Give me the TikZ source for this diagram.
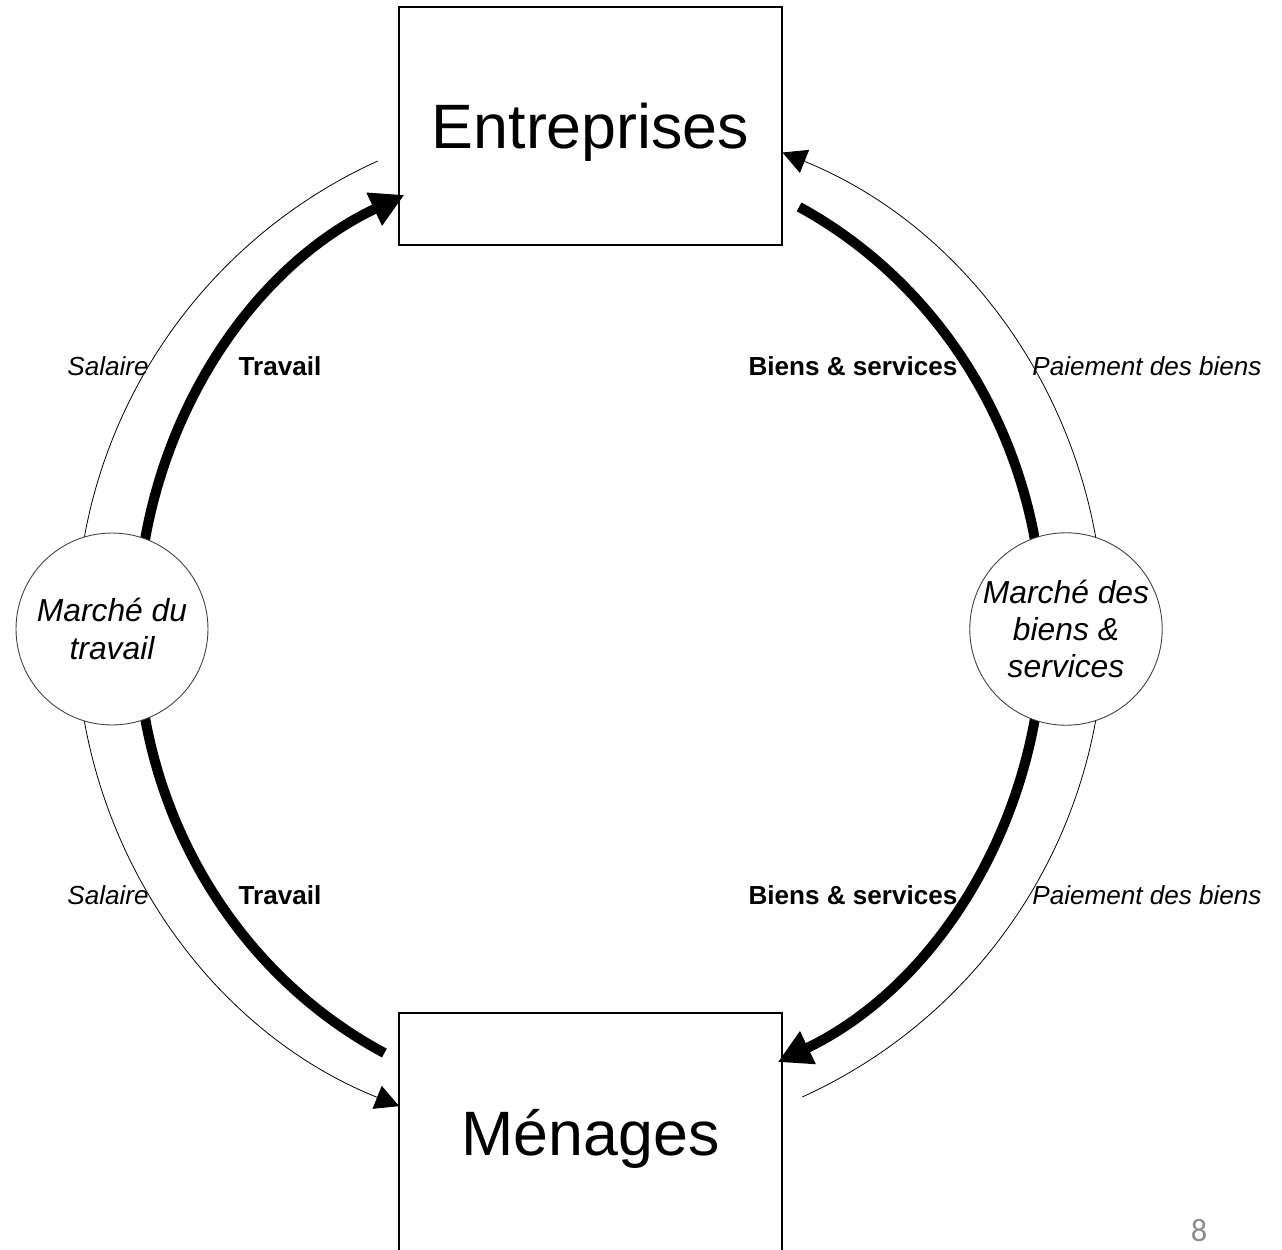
\documentclass[tikz,border=0pt]{standalone}
\usepackage{fontspec}
\setmainfont{Liberation Sans}
\newfontfamily\pagefont{Carlito}
\usetikzlibrary{arrows.meta}
\definecolor{pagegray}{HTML}{8C8C8C}
\begin{document}
\begin{tikzpicture}[x=0.02cm,y=0.02cm,
  box/.style={draw=black, line width=0.7pt, fill=white, minimum width=7.66cm,
    minimum height=4.76cm, inner sep=0pt, text depth=0pt,
    font=\fontsize{35.7}{40}\selectfont},
  market/.style={circle, draw=black!75, line width=0.5pt, fill=white,
    minimum size=3.84cm, inner sep=0pt, align=center,
    font=\fontsize{18.1}{21.3}\selectfont\itshape},
  flowthick/.style={line width=5.7pt},
  flowthin/.style={line width=0.45pt, draw=black},
  bigtip/.style={-{Triangle[length=19pt,width=19.5pt]}},
  smalltip/.style={-{Triangle[length=13.5pt,width=14pt]}},
  lab/.style={anchor=base, font=\fontsize{14.85}{17}\selectfont},
  labb/.style={lab, font=\fontsize{14.85}{17}\selectfont\bfseries},
  labi/.style={lab, font=\fontsize{14.85}{17}\selectfont\itshape},
]
\useasboundingbox (0,0) rectangle (1282,1249);
\clip (0,0) rectangle (1282,1249);

\coordinate (C) at (590,620);

% boxes
\node[box] (E) at (590.5,1123) {Entreprises};
\node[box] (M) at (590.5,117) {Ménages};

% thick flows (real flows)
\draw[flowthick,bigtip] ([shift={(180:9.06cm and 9.52cm)}]C)
  arc[start angle=180, end angle=114.2, x radius=9.06cm, y radius=9.52cm];
\draw[flowthick] ([shift={(62.5:9.06cm and 9.52cm)}]C)
  arc[start angle=62.5, end angle=0, x radius=9.06cm, y radius=9.52cm];
\draw[flowthick,bigtip] ([shift={(0:9.06cm and 9.52cm)}]C)
  arc[start angle=0, end angle=-65.5, x radius=9.06cm, y radius=9.52cm];
\draw[flowthick] ([shift={(-117:9.06cm and 9.52cm)}]C)
  arc[start angle=-117, end angle=-180, x radius=9.06cm, y radius=9.52cm];

% thin flows (money flows)
\draw[flowthin] ([shift={(114.4:10.28cm)}]C)
  arc[start angle=114.4, end angle=180, radius=10.28cm];
\draw[flowthin,smalltip] ([shift={(180:10.28cm)}]C)
  arc[start angle=180, end angle=248.2, radius=10.28cm];
\draw[flowthin,smalltip] ([shift={(0:10.28cm)}]C)
  arc[start angle=0, end angle=68, radius=10.28cm];
\draw[flowthin] ([shift={(-65.6:10.28cm)}]C)
  arc[start angle=-65.6, end angle=0, radius=10.28cm];

% markets
\node[market] (LM) at (112,620) {Marché du\\travail};
\node[market] (RM) at (1066,620) {Marché des\\biens \&\\services};

% labels
\node[labi] (s1) at (108,873) {Salaire};
\node[labb] (t1) at (280,873) {Travail};
\node[labb] (b1) at (853,873) {Biens \& services};
\node[labi] (p1) at (1147,873) {Paiement des biens};
\node[labi] (s2) at (108,345) {Salaire};
\node[labb] (t2) at (280,345) {Travail};
\node[labb] (b2) at (853,345) {Biens \& services};
\node[labi] (p2) at (1147,345) {Paiement des biens};

% page number
\node[anchor=base, text=pagegray, inner sep=0pt, font=\pagefont\fontsize{18.5}{20}\selectfont] (pg) at (1199,8) {8};
\end{tikzpicture}
\end{document}
